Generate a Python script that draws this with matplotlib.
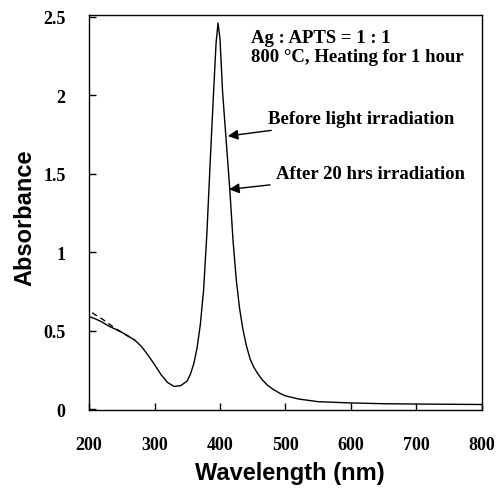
import matplotlib
matplotlib.use('Agg')
import matplotlib.pyplot as plt

############### 0. Data
wavelength = [200, 210, 220, 230, 240, 250, 260, 270, 280, 290, 300, 310, 320, 330, 340,
              350, 355, 360, 365, 370, 375, 380, 385, 390, 394, 397, 400, 404, 410, 415, 420,
              425, 430, 435, 440, 446, 452, 458, 464, 472, 480, 492, 500, 520, 550, 600, 650,
              700, 800]
before = [0.59, 0.575, 0.555, 0.53, 0.51, 0.49, 0.465, 0.44, 0.40, 0.345, 0.285, 0.22, 0.17,
          0.145, 0.15, 0.18, 0.225, 0.29, 0.39, 0.54, 0.76, 1.12, 1.57, 2.0, 2.33, 2.46, 2.36,
          2.02, 1.68, 1.40, 1.07, 0.82, 0.64, 0.51, 0.41, 0.32, 0.265, 0.225, 0.19, 0.155,
          0.13, 0.10, 0.085, 0.065, 0.048, 0.04, 0.035, 0.033, 0.03]

wavelength_after = [205, 210, 220, 230, 240, 250, 260, 270]
after = [0.615, 0.60, 0.575, 0.545, 0.515, 0.49, 0.465, 0.44]

serif = 'Liberation Serif'
sans = 'Liberation Sans'

############### 1. Figure
fig = plt.figure(figsize=(5.03, 4.89), dpi=100)
ax = fig.add_axes([0.177, 0.1595, 0.781, 0.8075])

ax.plot(wavelength, before, color='black', lw=1.0)
ax.plot(wavelength_after, after, color='black', lw=1.0, ls=(0, (4, 3)))

ax.set_xlim(200, 800)
ax.set_ylim(-0.005, 2.51)
ax.set_xticks([200, 300, 400, 500, 600, 700, 800])
ax.set_yticks([0, 0.5, 1, 1.5, 2, 2.5])
ax.set_yticklabels(['0', '0.5', '1', '1.5', '2', '2.5'])

ax.tick_params(direction='in', length=5, width=1, top=False, right=False)
ax.tick_params(axis='x', pad=19)
ax.tick_params(axis='y', pad=17)
for lab in ax.get_xticklabels() + ax.get_yticklabels():
    lab.set_fontfamily(serif)
    lab.set_fontweight('bold')
    lab.set_fontsize(13)
for sp in ax.spines.values():
    sp.set_linewidth(1.0)

ax.set_xlabel('Wavelength (nm)', fontfamily=sans, fontweight='bold', fontsize=17)
ax.set_ylabel('Absorbance', fontfamily=sans, fontweight='bold', fontsize=17)
ax.xaxis.set_label_coords(0.51, -0.13)
ax.yaxis.set_label_coords(-0.135, 0.489)

############### 2. Annotations
tkw = dict(fontfamily=serif, fontweight='bold', fontsize=13.5, va='center', ha='left')
ax.text(0.413, 0.944, 'Ag : APTS = 1 : 1', transform=ax.transAxes, **tkw)
ax.text(0.413, 0.896, '800 °C, Heating for 1 hour', transform=ax.transAxes, **tkw)

ax.annotate('Before light irradiation', xy=(412, 1.74), xytext=(473, 1.85), **tkw,
            arrowprops=dict(arrowstyle='-|>', color='black', lw=1, shrinkA=2, shrinkB=0,
                            mutation_scale=15))
ax.annotate('After 20 hrs irradiation', xy=(414, 1.40), xytext=(485, 1.50), **tkw,
            arrowprops=dict(arrowstyle='-|>', color='black', lw=1, shrinkA=2, shrinkB=0,
                            mutation_scale=15))

plt.savefig('out.png', dpi=100)
